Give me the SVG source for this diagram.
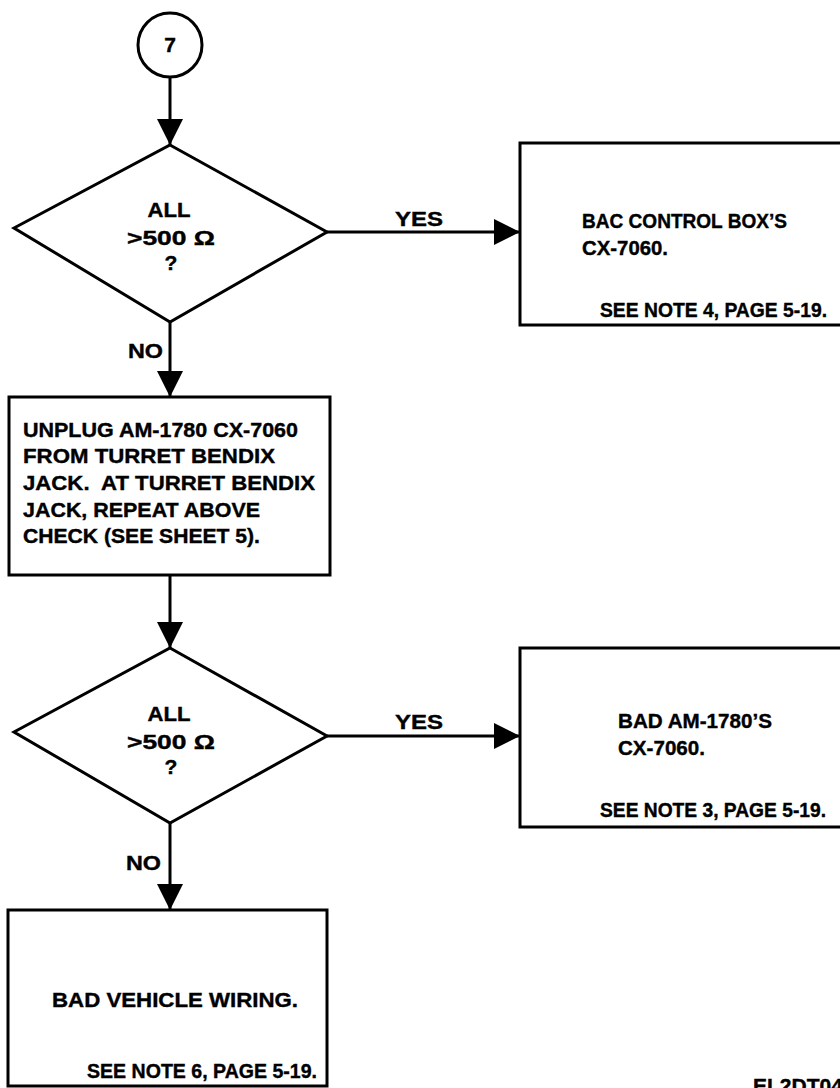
<svg xmlns="http://www.w3.org/2000/svg" width="840" height="1088" viewBox="0 0 840 1088">
<style>
.s{fill:#fff;stroke:#000;stroke-width:3}
.t{font-family:"Liberation Sans","Arial",sans-serif;font-weight:bold;fill:#000;stroke:#000;stroke-width:0.4;font-size:21px}
.m{text-anchor:middle}
.c{fill:none;stroke:#000;stroke-width:3}
</style>
<defs>
<marker id="av" markerWidth="26" markerHeight="26" refX="26" refY="13" orient="auto" markerUnits="userSpaceOnUse" viewBox="0 0 26 26">
<path d="M0,0 L26,13 L0,26 Z" fill="#000"/>
</marker>
</defs>
<rect width="840" height="1088" fill="#fff"/>
<g id="connectors">
<line class="c" x1="170" y1="77" x2="170" y2="145" marker-end="url(#av)"/>
<line class="c" x1="327" y1="232" x2="520" y2="232" marker-end="url(#av)"/>
<line class="c" x1="170" y1="322" x2="170" y2="397" marker-end="url(#av)"/>
<line class="c" x1="170" y1="575" x2="170" y2="648" marker-end="url(#av)"/>
<line class="c" x1="327" y1="736" x2="520" y2="736" marker-end="url(#av)"/>
<line class="c" x1="170" y1="823" x2="170" y2="910" marker-end="url(#av)"/>
<text class="t" x="395" y="226" textLength="48" lengthAdjust="spacingAndGlyphs">YES</text>
<text class="t" x="128" y="358" textLength="35" lengthAdjust="spacingAndGlyphs">NO</text>
<text class="t" x="395" y="729" textLength="48" lengthAdjust="spacingAndGlyphs">YES</text>
<text class="t" x="126" y="870" textLength="35" lengthAdjust="spacingAndGlyphs">NO</text>
</g>
<g id="start">
<circle class="s" cx="170" cy="45" r="32"/>
<text class="t m" x="170" y="52" font-size="24">7</text>
</g>
<g id="decision1">
<polygon class="s" points="170,145 327,232 170,322 14,228"/>
<text class="t m" x="169" y="217" textLength="43" lengthAdjust="spacingAndGlyphs">ALL</text>
<text class="t m" x="171" y="245" textLength="88" lengthAdjust="spacingAndGlyphs">&gt;500 Ω</text>
<text class="t m" x="171" y="270">?</text>
</g>
<g id="result1">
<rect class="s" x="520" y="143" width="330" height="182"/>
<text class="t" x="582" y="228" textLength="205" lengthAdjust="spacingAndGlyphs">BAC CONTROL BOX’S</text>
<text class="t" x="582" y="255" textLength="86" lengthAdjust="spacingAndGlyphs">CX-7060.</text>
<text class="t" x="600" y="317" font-size="20" textLength="227" lengthAdjust="spacingAndGlyphs">SEE NOTE 4, PAGE 5-19.</text>
</g>
<g id="step2">
<rect class="s" x="9" y="397" width="321" height="178"/>
<text class="t" x="23" y="437" textLength="275" lengthAdjust="spacingAndGlyphs">UNPLUG AM-1780 CX-7060</text>
<text class="t" x="23" y="463" textLength="252" lengthAdjust="spacingAndGlyphs">FROM TURRET BENDIX</text>
<text class="t" x="23" y="490" textLength="292" lengthAdjust="spacingAndGlyphs" xml:space="preserve">JACK.  AT TURRET BENDIX</text>
<text class="t" x="23" y="517" textLength="237" lengthAdjust="spacingAndGlyphs">JACK, REPEAT ABOVE</text>
<text class="t" x="23" y="543" textLength="237" lengthAdjust="spacingAndGlyphs">CHECK (SEE SHEET 5).</text>
</g>
<g id="decision2">
<polygon class="s" points="170,648 327,736 170,823 14,732"/>
<text class="t m" x="169" y="721" textLength="43" lengthAdjust="spacingAndGlyphs">ALL</text>
<text class="t m" x="171" y="749" textLength="88" lengthAdjust="spacingAndGlyphs">&gt;500 Ω</text>
<text class="t m" x="171" y="774">?</text>
</g>
<g id="result2">
<rect class="s" x="520" y="648" width="330" height="179"/>
<text class="t" x="618" y="728" textLength="154" lengthAdjust="spacingAndGlyphs">BAD AM-1780’S</text>
<text class="t" x="618" y="755" textLength="87" lengthAdjust="spacingAndGlyphs">CX-7060.</text>
<text class="t" x="600" y="817" font-size="20" textLength="226" lengthAdjust="spacingAndGlyphs">SEE NOTE 3, PAGE 5-19.</text>
</g>
<g id="result3">
<rect class="s" x="8" y="910" width="319" height="176"/>
<text class="t" x="52" y="1007" textLength="246" lengthAdjust="spacingAndGlyphs">BAD VEHICLE WIRING.</text>
<text class="t" x="87" y="1078" textLength="230" lengthAdjust="spacingAndGlyphs">SEE NOTE 6, PAGE 5-19.</text>
</g>
<text class="t" x="753" y="1093" font-size="18">EL2DT048</text>
</svg>
